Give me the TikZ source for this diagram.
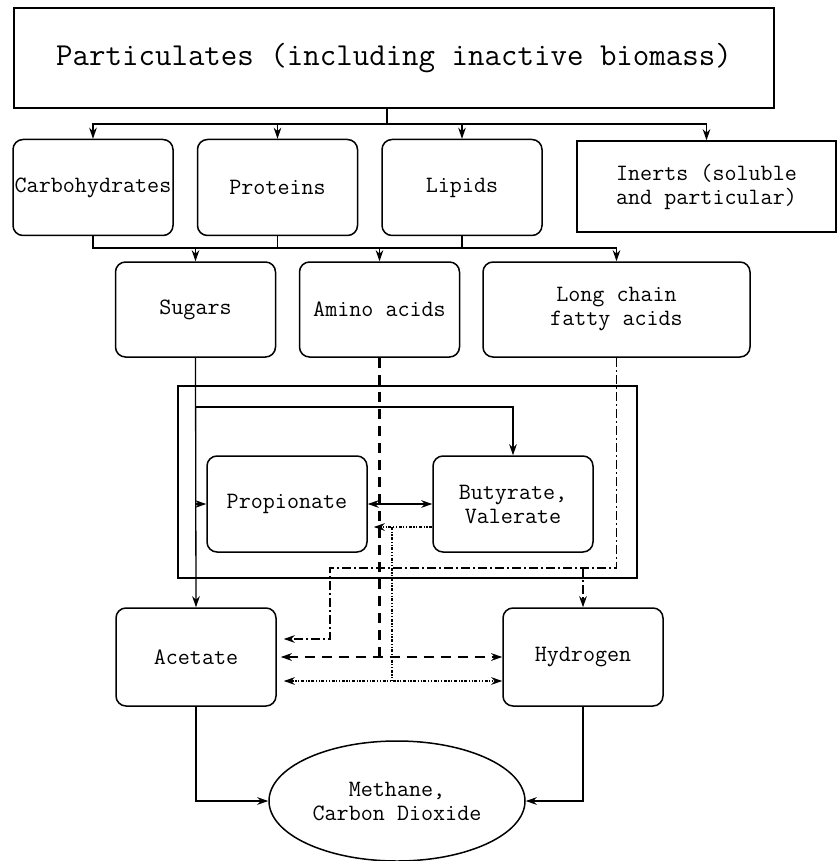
\documentclass[tikz,border=0pt]{standalone}
\usepackage{tikz}
\usetikzlibrary{arrows.meta}
\usetikzlibrary{shapes.geometric}

\begin{document}
\begin{tikzpicture}[x=0.5pt, y=-0.5pt, line width=0.65pt,
  >={Stealth[length=5.5pt,width=3.8pt,inset=1.7pt]},
  box/.style={draw, line width=0.75pt, rounded corners=5pt, align=center, inner sep=0pt,
    font=\ttfamily\fontsize{11.7}{12}\selectfont, minimum width=80pt, minimum height=48pt},
  sharpbox/.style={box, rounded corners=0pt},
  dashline/.style={line width=1.3pt, dash pattern=on 5pt off 3.5pt},
  ddline/.style={dash pattern=on 4.5pt off 1.5pt on 1pt off 1.5pt},
  dotline/.style={line width=0.7pt, dash pattern=on 1.5pt off 0.8pt on 0.6pt off 0.8pt on 0.6pt off 0.8pt}]
\useasboundingbox (0,0) rectangle (838,861);

% feed and first split
\node[sharpbox, minimum width=380pt, minimum height=50pt,
  font=\ttfamily\fontsize{16}{18}\selectfont] (part) at (394,58) {Particulates (including inactive biomass)};
\node[box] (carb) at (93,187.5) {Carbohydrates};
\node[box] (prot) at (277.5,187.5) {Proteins};
\node[box] (lip) at (462,187.5) {Lipids};
\node[sharpbox, minimum width=129.5pt, minimum height=45.5pt] (inert) at (706.5,186.5) {Inerts (soluble\\and particular)};

% hydrolysis products
\node[box, minimum height=47.5pt] (sug) at (195.5,309.5) {Sugars};
\node[box, minimum height=47.5pt] (amino) at (379.5,309.5) {Amino acids};
\node[box, minimum width=133.5pt, minimum height=47.5pt] (lcfa) at (616.5,309.5) {Long chain\\fatty acids};

% intermediate acids
\draw[line width=0.75pt] (178,386) rectangle (637,578);
\node[box] (prop) at (287,504) {Propionate};
\node[box] (buty) at (513,504) {Butyrate,\\Valerate};

% end products
\node[box, minimum height=49pt] (acet) at (196,657) {Acetate};
\node[box, minimum height=49pt] (hyd) at (583,657) {Hydrogen};
\node[draw, ellipse, line width=0.75pt, minimum width=128pt, minimum height=60pt, inner sep=0pt,
  align=center, font=\ttfamily\fontsize{11.7}{12}\selectfont] (meth) at (397,801) {Methane,\\Carbon Dioxide};

\coordinate (bus1) at (387,124);
\coordinate (bus2) at (0,248);
\draw (part.south -| bus1) -- (bus1);
\foreach\n in {carb,prot,lip,inert}{
  \draw[->] (bus1) -| (\n.north);
}
\foreach\n in {prot,lip}{
  \draw (\n.south) -- (\n.south |- bus2);
}
\draw (carb.south) |- (lcfa.north |- bus2);
\foreach\n in {sug,amino,lcfa}{
  \draw[->] (\n.north |- bus2) -- (\n.north);
}

\draw[->] (sug.south) -- (acet.north);
\draw[->] (sug.south |- 0,407) -| (buty.north);
\draw[->] (sug.south |- prop.west) -- (prop.west);
\draw[<->] (prop.east) -- (buty.west);

\coordinate (dj) at (392,527);
\draw[dotline,->] ([yshift=-11.5pt]buty.west) -- ([xshift=3pt,yshift=-11.5pt]prop.east);
\draw[dotline] (dj) -- (dj |- 0,681);
\draw[dotline,<->] ([xshift=3.5pt,yshift=-12pt]acet.east) -- ([yshift=-12pt]hyd.west);

\draw[dashline] (amino.south) -- (amino.south |- acet.east);
\draw[dashline,<->] ([xshift=2pt]acet.east) -- (hyd.west);

\draw[ddline,->] (lcfa.south) |- (330,568) |- ([xshift=3.5pt,yshift=9pt]acet.east);
\draw[ddline,->] (hyd.north |- 0,568) -- (hyd.north);

\draw[->] (acet.south) |- (meth.west);
\draw[->] (hyd.south) |- (meth.east);
\end{tikzpicture}
\end{document}
